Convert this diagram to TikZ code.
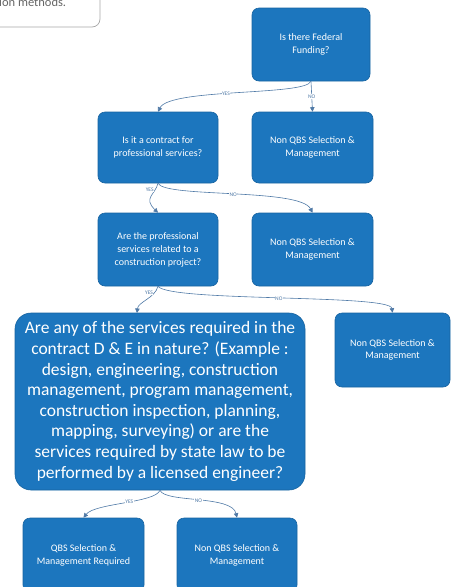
\documentclass[tikz,border=0pt]{standalone}
\usepackage{fontspec}
\setmainfont{Carlito}
\usetikzlibrary{arrows.meta}
\definecolor{boxblue}{HTML}{1C76BE}
\definecolor{linkblue}{HTML}{4F79A6}
\tikzset{
  bx/.style={draw=boxblue!85!black, line width=0.6pt, fill=boxblue, rounded corners=7pt, text=white, align=center, inner sep=2pt},
  small/.style={font=\fontsize{10}{13}\selectfont},
  tiny/.style={font=\fontsize{10}{12}\selectfont},
  link/.style={draw=linkblue, line width=0.6pt, -{Triangle[length=4.5pt,width=4.5pt]}},
  lbl/.style={font=\fontsize{5.5}{6}\selectfont, text=linkblue, fill=white, inner sep=0.5pt},
}
\begin{document}
\begin{tikzpicture}[x=1pt,y=-1pt]
\useasboundingbox (0,0) rectangle (451,587);
\clip (0,0) rectangle (451,587);
% partial note box top-left
\draw[gray!70, line width=0.7pt, rounded corners=8pt] (-20,-20) -- (100,-20) -- (100,27) -- (-20,27);
\node[anchor=base west, font=\fontsize{12.5}{13}\selectfont, text=gray!80!black, inner sep=0] (note) at (-1,6) {ion methods.};
% boxes
\node[bx, small, minimum width=118pt, minimum height=73pt] (q1) at (311,44.5) {Is there Federal\\Funding?};
\node[bx, small, minimum width=120pt, minimum height=71pt] (q2) at (158,147.5) {Is it a contract for\\professional services?};
\node[bx, small, minimum width=121pt, minimum height=71pt] (n1) at (312.5,147.5) {Non QBS Selection \&\\Management};
\node[bx, small, minimum width=120pt, minimum height=73pt] (q3) at (158,249.5) {Are the professional\\services related to a\\construction project?};
\node[bx, small, minimum width=121pt, minimum height=73pt] (n2) at (312.5,249.5) {Non QBS Selection \&\\Management};
\node[bx, rounded corners=16pt, font=\fontsize{17.5}{20.6}\selectfont, minimum width=290pt, minimum height=177pt, inner sep=0pt] (q4) at (160,401.5) {Are any of the services required in the\\contract D \& E in nature? (Example :\\design, engineering, construction\\management, program management,\\construction inspection, planning,\\mapping, surveying) or are the\\services required by state law to be\\performed by a licensed engineer?};
\node[bx, tiny, minimum width=115pt, minimum height=74pt] (n3) at (392.5,350) {Non QBS Selection \&\\Management};
\node[bx, small, minimum width=121pt, minimum height=74pt] (a1) at (83.5,555) {QBS Selection \&\\Management Required};
\node[bx, small, minimum width=120pt, minimum height=74pt] (n4) at (237,555) {Non QBS Selection \&\\Management};
\coordinate (q4in) at (137,313);
% connectors
\draw[link] (q1.south) .. controls (305,96) and (170,88) .. node[lbl, pos=0.55] {YES} (q2.north);
\draw[link] (q1.south) -- node[lbl, pos=0.5] {NO} (n1.north);
\draw[link] (q2.south) .. controls (155,195) and (143,198) .. node[lbl, pos=0.2, left=1pt] {YES} (q3.north);
\draw[link] (q2.south) .. controls (165,198) and (300,188) .. node[lbl, pos=0.5] {NO} (n2.north);
\draw[link] (q3.south) .. controls (155,298) and (138,302) .. node[lbl, pos=0.2, left=1pt] {YES} (q4in);
\draw[link] (q3.south) .. controls (170,302) and (390,294) .. node[lbl, pos=0.5] {NO} (n3.north);
\draw[link] (q4.south) .. controls (155,503) and (95,503) .. node[lbl, pos=0.45] {YES} (a1.north);
\draw[link] (q4.south) .. controls (165,503) and (232,495) .. node[lbl, pos=0.5] {NO} (n4.north);
\end{tikzpicture}
\end{document}
